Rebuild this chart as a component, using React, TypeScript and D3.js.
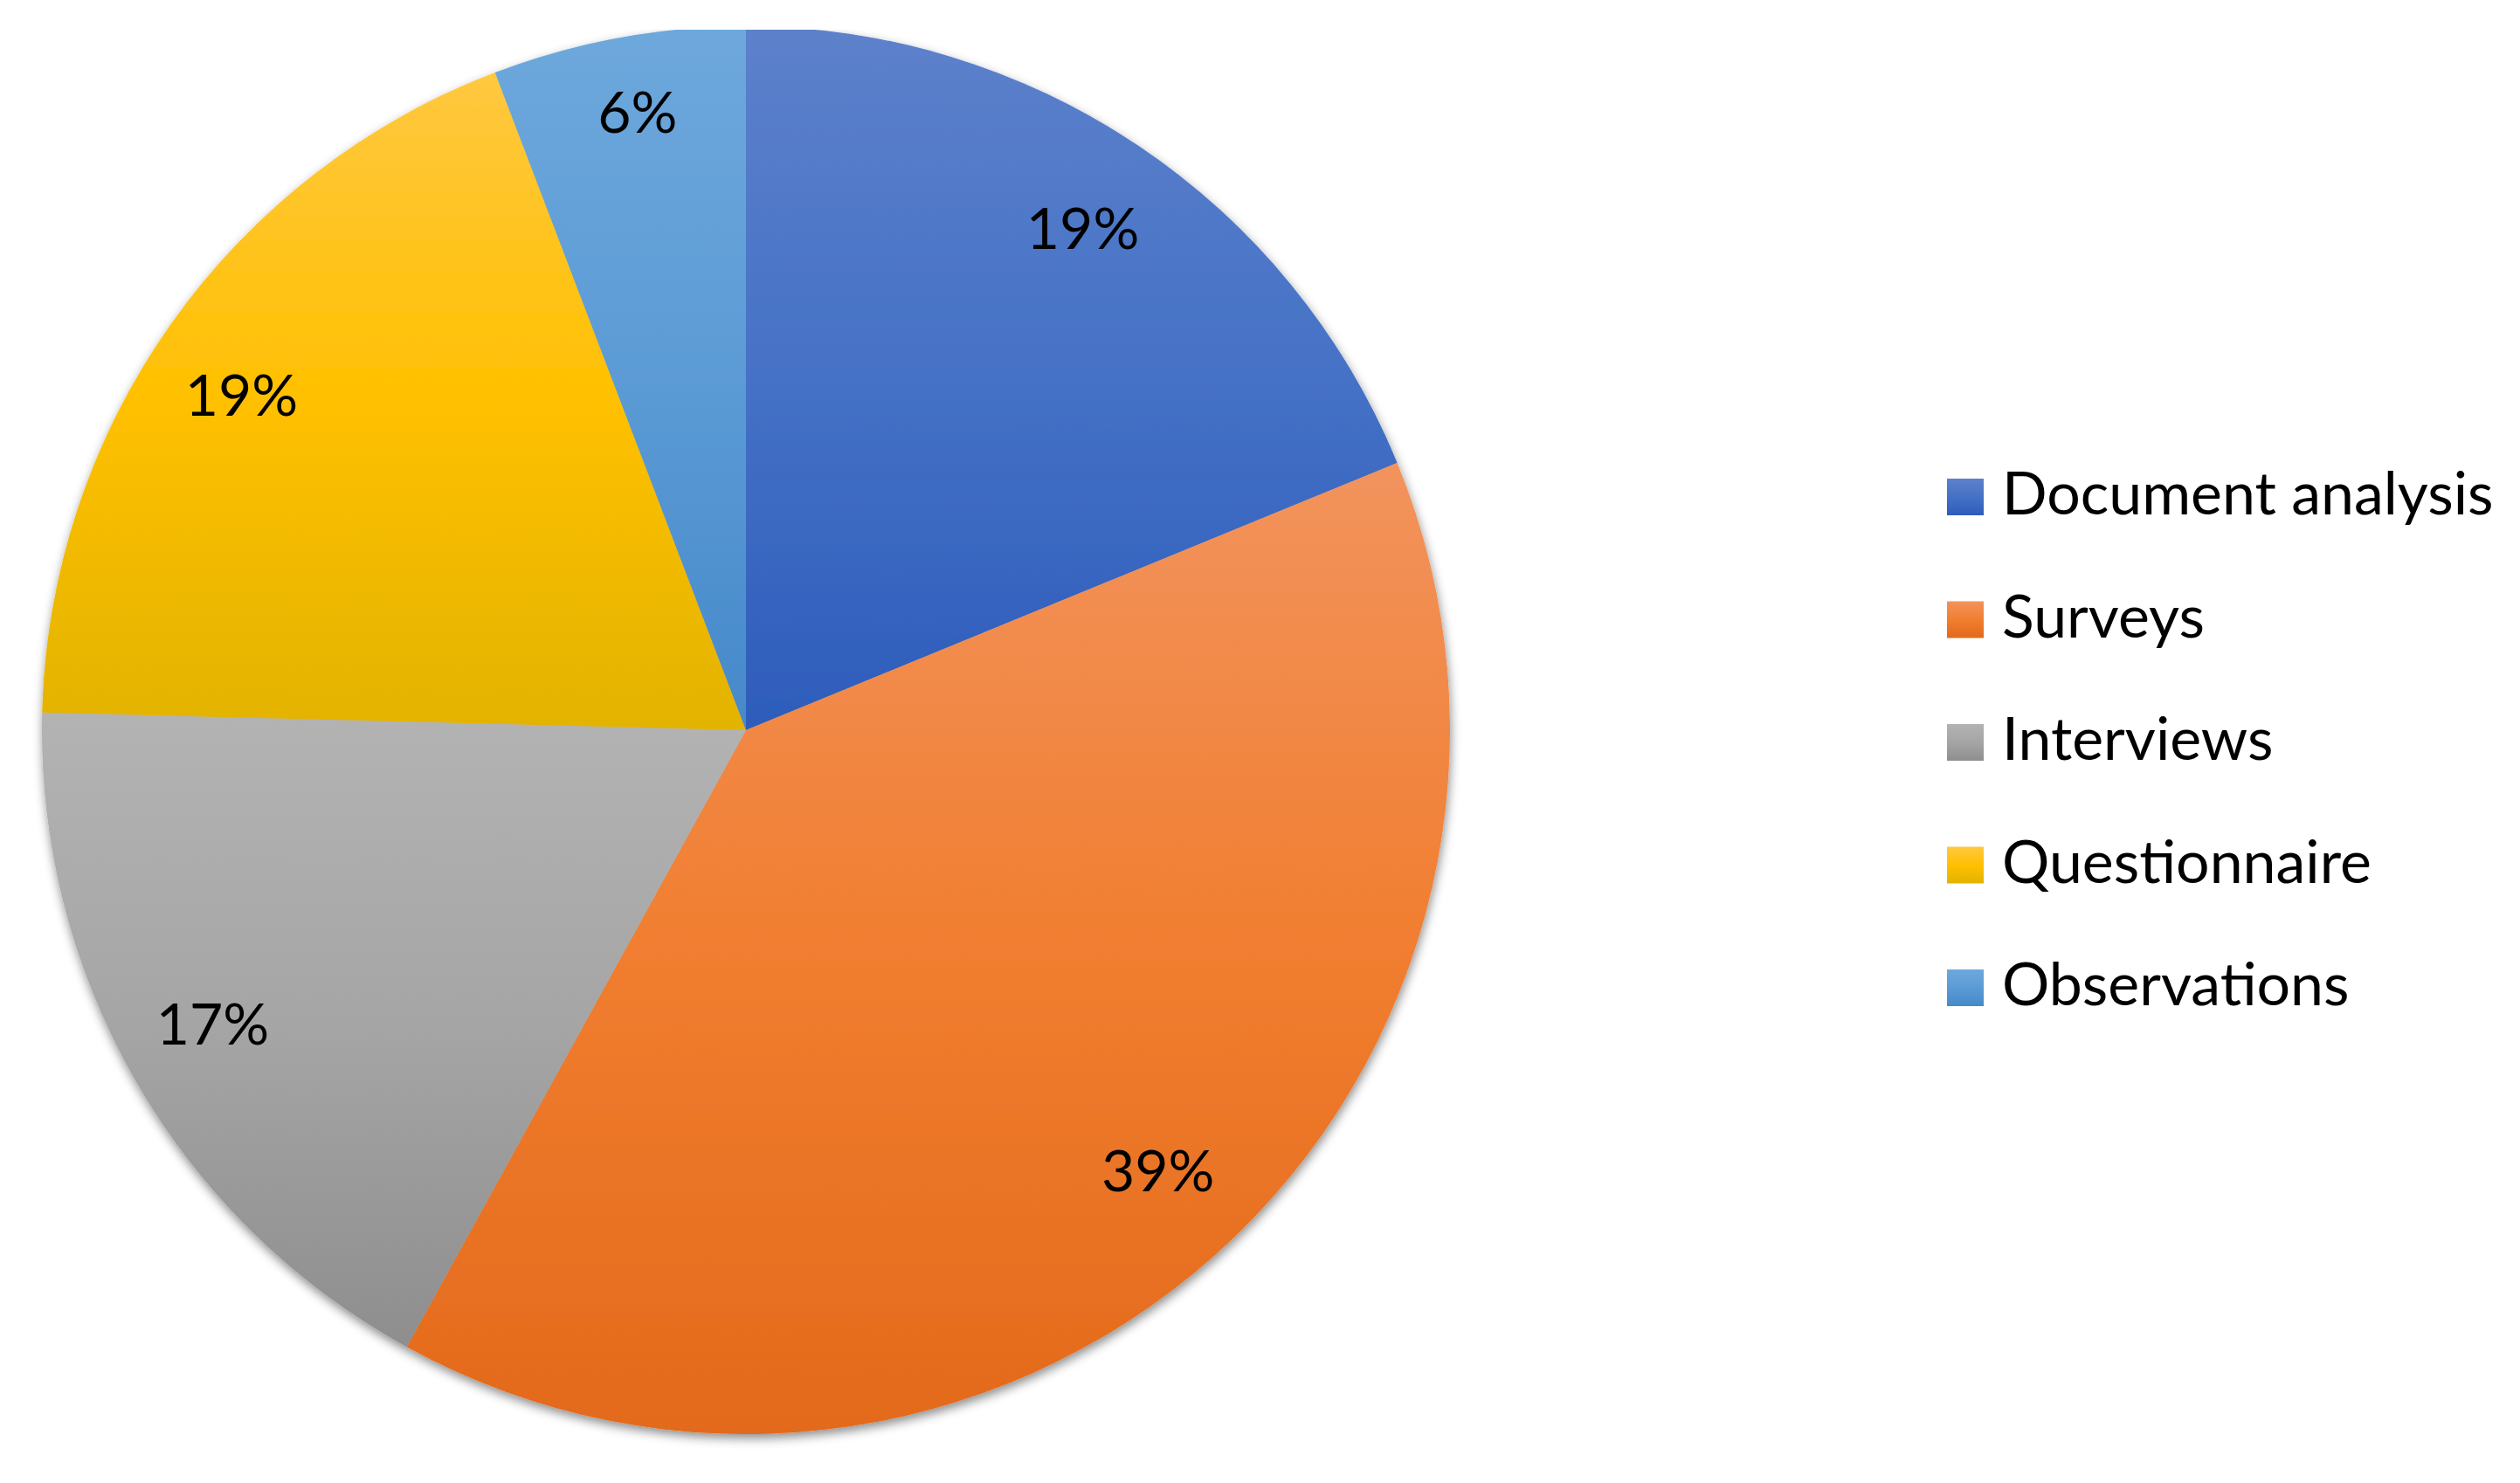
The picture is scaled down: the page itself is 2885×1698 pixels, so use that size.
import React from "react";
import * as d3 from "d3";

const categories = ["Document analysis", "Surveys", "Interviews", "Questionnaire", "Observations"];
const shares = [18.8, 39.2, 17.4, 18.8, 5.8];
const gradientStops = [
  ["#5D81CB", "#4571C6", "#2D5CBB"],
  ["#F2935D", "#F17E30", "#E3691A"],
  ["#B3B3B3", "#A5A5A5", "#8E8E8E"],
  ["#FFC840", "#FFC000", "#E2B300"],
  ["#6EA8DC", "#5B9BD5", "#4689CA"],
];
const labelRadiusFactor = [0.859, 0.857, 0.865, 0.86, 0.892];
const labelAngleOffsetDeg = [0, -1.3, 1.0, -1.7, 0.5];

const W = 2885;
const H = 1698;
const CX = 854;
const CY = 836;
const R = 806;
const FONT = "Lato, 'Open Sans', sans-serif";

export default function App() {
  const pie = d3
    .pie<number>()
    .sort(null)
    .value((d) => d)
    .startAngle(0)
    .endAngle(2 * Math.PI);
  const arcs = pie(shares);
  const arc = d3.arc<d3.PieArcDatum<number>>().innerRadius(0).outerRadius(R);
  const total = d3.sum(shares);

  const legendX = 2229;
  const legendY0 = 548;
  const legendStep = 140.5;
  const sq = 42;

  return (
    <div style={{ position: "absolute", left: 0, top: 0 }}>
      <svg width={W} height={H} style={{ display: "block", background: "#fff" }}>
        <defs>
          {gradientStops.map((stops, i) => (
            <linearGradient key={i} id={`g${i}`} x1="0" y1="0" x2="0" y2="1">
              <stop offset="0" stopColor={stops[0]} />
              <stop offset="0.5" stopColor={stops[1]} />
              <stop offset="1" stopColor={stops[2]} />
            </linearGradient>
          ))}
          <filter id="shadow" x="-10%" y="-10%" width="120%" height="120%">
            <feDropShadow dx="1" dy="5" stdDeviation="6" floodColor="#000" floodOpacity="0.45" />
          </filter>
          <clipPath id="clip">
            <rect x={0} y={34} width={W} height={H - 34} />
          </clipPath>
        </defs>
        <g clipPath="url(#clip)">
          <g transform={`translate(${CX},${CY})`} filter="url(#shadow)">
            {arcs.map((a, i) => (
              <path key={i} d={arc(a) || ""} fill={`url(#g${i})`} />
            ))}
          </g>
        </g>
        <g transform={`translate(${CX},${CY})`}>
          {arcs.map((a, i) => {
            const lr = R * labelRadiusFactor[i];
            const mid = (a.startAngle + a.endAngle) / 2 + (labelAngleOffsetDeg[i] * Math.PI) / 180;
            const x = lr * Math.sin(mid);
            const y = -lr * Math.cos(mid);
            return (
              <text
                key={i}
                x={x}
                y={y}
                dy="0.36em"
                textAnchor="middle"
                fontFamily={FONT}
                fontSize={66}
                fill="#000"
              >
                {Math.round((a.data / total) * 100)}%
              </text>
            );
          })}
        </g>
        <g>
          {categories.map((c, i) => (
            <g key={c} transform={`translate(${legendX},${legendY0 + i * legendStep})`}>
              <rect x={0} y={0} width={sq} height={sq} fill={`url(#g${i})`} />
              <text x={63} y={41} fontFamily={FONT} fontSize={68} fill="#000">
                {c}
              </text>
            </g>
          ))}
        </g>
      </svg>
    </div>
  );
}
